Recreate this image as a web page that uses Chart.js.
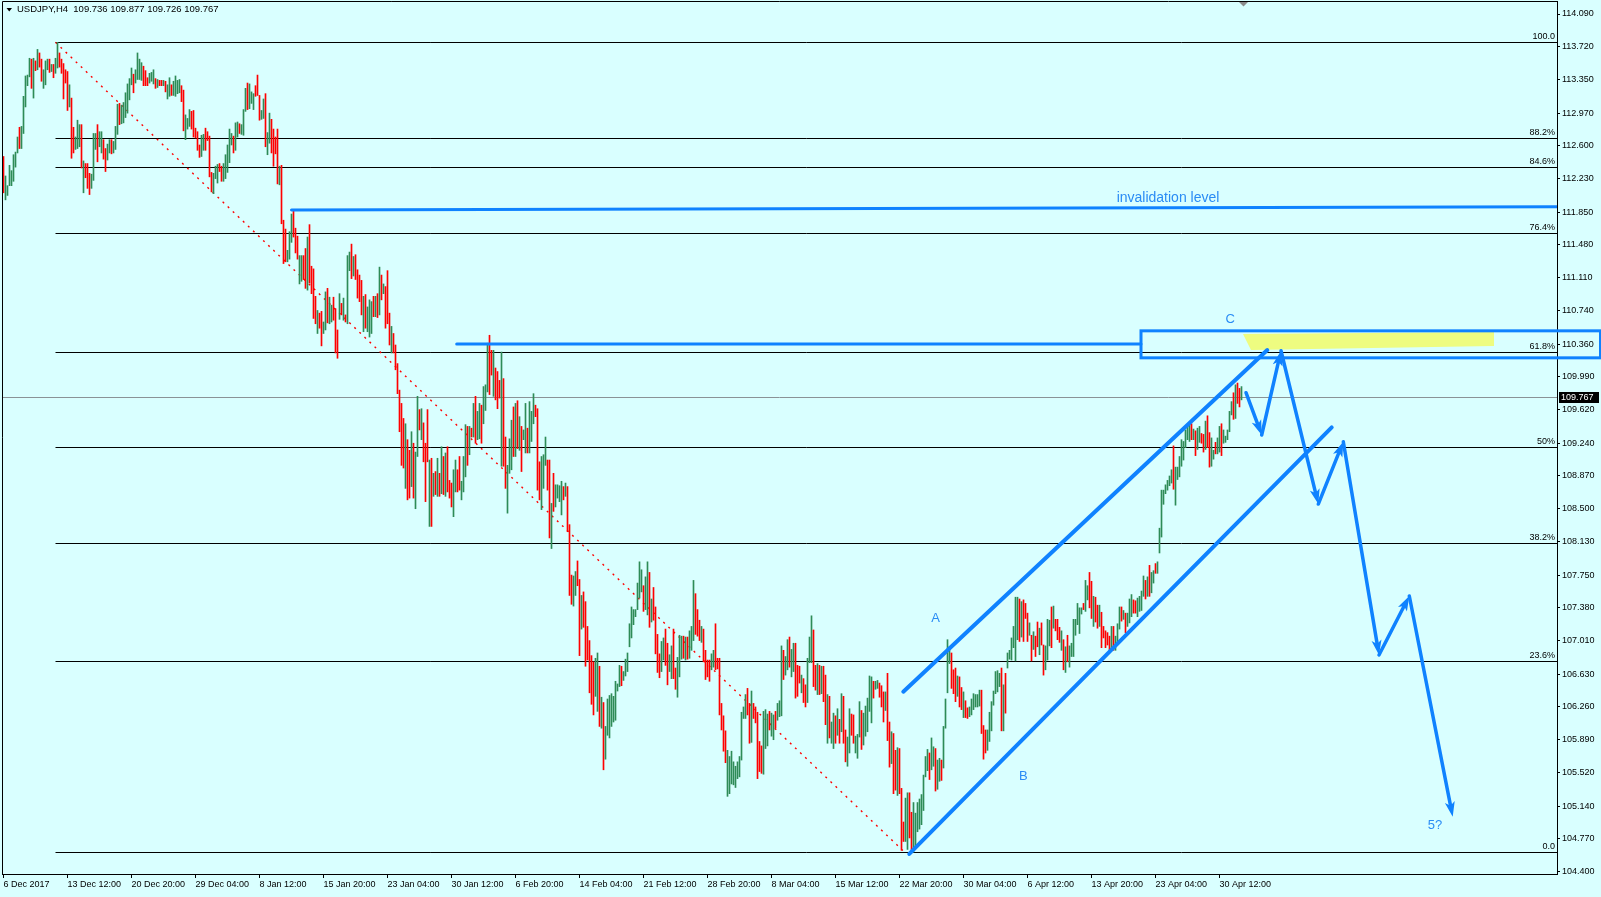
<!DOCTYPE html>
<html>
<head>
<meta charset="utf-8">
<title>USDJPY,H4</title>
<script src="https://cdn.jsdelivr.net/npm/chart.js@4.4.1/dist/chart.umd.min.js"></script>
<style>
  html, body { margin: 0; padding: 0; background: #d9ffff; overflow: hidden; }
  canvas { display: block; }
</style>
</head>
<body>
<canvas id="chart" width="1601" height="897"></canvas>
<script>
// H4 bars (index 0 = 6 Dec 2017 00:00)
const highs = [
  112.48,112.26,112.15,112.38,112.32,112.50,112.53,112.70,112.81,112.82, 113.16,113.39,113.40,113.59,113.58,113.59,113.56,113.69,113.65,113.58,
  113.46,113.56,113.58,113.58,113.52,113.52,113.59,113.77,113.65,113.58, 113.53,113.46,113.44,113.29,113.14,112.81,112.70,112.89,112.84,112.84,
  112.43,112.40,112.40,112.29,112.28,112.74,112.74,112.84,112.76,112.76, 112.67,112.57,112.62,112.67,112.67,112.65,112.82,113.07,113.08,113.06,
  113.09,113.20,113.30,113.36,113.48,113.41,113.46,113.65,113.58,113.54, 113.50,113.45,113.37,113.42,113.43,113.46,113.36,113.35,113.34,113.34,
  113.34,113.33,113.29,113.37,113.29,113.33,113.39,113.34,113.35,113.28, 113.23,112.95,112.91,113.01,112.99,113.00,112.80,112.76,112.61,112.72,
  112.73,112.80,112.76,112.71,112.30,112.29,112.37,112.39,112.40,112.37, 112.40,112.50,112.61,112.79,112.74,112.71,112.86,112.87,112.85,112.84,
  113.01,113.25,113.31,113.30,113.21,113.19,113.28,113.40,113.17,113.00, 113.13,113.19,112.75,112.97,112.90,112.79,112.70,112.79,112.37,112.38,
  111.76,111.66,111.42,111.63,111.83,111.87,111.67,111.58,111.36,111.36, 111.36,111.44,111.57,111.71,111.24,111.21,110.90,110.74,110.71,110.73,
  110.61,110.95,110.99,110.89,110.80,110.89,110.76,110.52,110.93,110.82, 110.88,110.69,111.36,111.40,111.49,111.35,111.37,111.20,111.14,111.08,
  110.90,110.92,110.78,110.86,110.84,110.90,110.90,110.93,111.23,111.14, 111.04,111.01,111.19,110.71,110.56,110.48,110.35,110.14,109.84,109.69,
  109.52,109.46,109.28,109.16,109.37,109.24,109.14,109.77,109.62,109.63, 109.47,109.24,109.62,109.05,109.07,108.90,108.92,109.07,108.90,109.20,
  109.09,109.13,109.20,108.82,108.79,108.94,109.05,108.94,109.09,108.81, 109.09,109.45,109.43,109.43,109.41,109.69,109.77,109.60,109.69,109.67,
  109.88,109.90,110.37,110.46,110.29,110.29,110.09,110.05,109.95,110.27, 109.97,109.31,108.99,109.29,109.50,109.65,109.69,109.72,109.54,109.43,
  109.39,109.69,109.41,109.71,109.60,109.80,109.67,109.63,109.03,109.09, 109.11,109.31,109.05,109.05,108.56,108.90,108.77,108.77,108.76,108.81,
  108.75,108.79,108.75,108.32,107.75,107.74,107.79,107.91,107.70,107.52, 107.56,107.45,107.17,107.01,106.84,106.77,106.81,106.87,106.72,106.37,
  106.31,106.04,106.35,106.39,106.41,106.38,106.55,106.52,106.73,106.72, 106.66,106.80,106.87,107.20,107.39,107.36,107.36,107.66,107.90,107.81,
  107.63,107.73,107.90,107.78,107.48,107.61,107.39,107.08,106.86,107.00, 107.04,107.14,106.98,106.85,106.95,107.14,106.70,106.82,107.07,107.06,
  107.06,107.05,107.05,107.12,107.17,107.69,107.54,107.36,107.24,107.17, 107.14,106.90,106.79,106.79,106.86,106.90,107.20,106.81,106.81,106.30,
  106.16,105.99,105.77,105.70,105.76,105.64,105.59,105.64,105.70,106.20, 106.26,106.40,106.47,106.30,106.44,106.30,106.26,106.20,105.87,105.82,
  106.21,106.23,106.18,106.21,106.19,106.17,106.21,106.30,106.33,106.95, 106.90,106.83,107.02,107.05,106.91,106.98,106.98,106.73,106.72,106.62,
  106.58,106.51,106.81,107.05,107.29,107.13,106.73,106.75,106.73,106.72, 106.72,106.62,106.40,106.38,106.09,106.19,106.16,106.24,106.12,106.41,
  106.38,106.00,105.92,106.24,106.18,106.17,105.93,105.95,106.32,106.22, 106.19,106.27,106.36,106.61,106.60,106.55,106.55,106.56,106.53,106.50,
  106.43,106.43,106.64,106.09,105.98,105.96,105.77,105.80,105.79,105.34, 104.96,105.23,105.29,105.29,105.07,105.18,105.06,105.18,105.22,105.27,
  105.49,105.70,105.78,105.74,105.91,105.81,105.79,105.66,105.68,105.66, 106.04,106.35,107.02,106.94,106.87,106.68,106.70,106.61,106.60,106.48,
  106.43,106.33,106.25,106.26,106.35,106.41,106.40,106.40,106.45,106.45, 106.05,106.00,106.00,106.20,106.32,106.44,106.66,106.67,106.64,106.70,
  106.51,106.64,106.87,106.90,107.04,107.17,107.50,107.50,107.48,107.45, 107.47,107.43,107.32,107.21,107.07,107.11,107.06,107.22,107.15,107.21,
  106.96,106.95,107.25,107.24,107.39,107.40,107.25,107.25,107.16,107.12, 107.02,106.94,107.07,106.95,106.98,107.25,107.25,107.43,107.38,107.38,
  107.43,107.69,107.63,107.78,107.68,107.51,107.50,107.41,107.41,107.33, 107.17,107.12,107.10,107.06,107.17,107.17,107.06,107.20,107.39,107.39,
  107.35,107.32,107.32,107.48,107.53,107.47,107.46,107.49,107.51,107.57, 107.74,107.69,107.73,107.86,107.78,107.80,107.88,107.90,108.28,108.71,
  108.71,108.77,108.82,108.87,108.94,109.21,108.97,108.97,109.09,109.28, 109.26,109.39,109.45,109.46,109.46,109.40,109.38,109.41,109.43,109.35,
  109.34,109.49,109.55,109.36,109.30,109.16,109.25,109.30,109.43,109.46, 109.39,109.32,109.39,109.60,109.71,109.81,109.90,109.92,109.86,109.88
];
const lows = [
  112.07,111.99,112.04,112.15,112.15,112.20,112.36,112.52,112.57,112.57, 112.74,113.04,113.28,113.38,113.25,113.14,113.45,113.46,113.49,113.33,
  113.25,113.29,113.46,113.43,113.44,113.37,113.42,113.48,113.49,113.42, 113.13,113.31,113.00,113.04,112.46,112.52,112.56,112.57,112.59,112.35,
  112.07,112.24,112.12,112.05,112.12,112.21,112.56,112.42,112.59,112.52, 112.45,112.31,112.44,112.52,112.51,112.52,112.56,112.73,112.84,112.85,
  112.86,112.92,112.97,113.12,113.29,113.20,113.31,113.35,113.35,113.34, 113.28,113.28,113.28,113.31,113.33,113.30,113.25,113.26,113.28,113.28,
  113.28,113.21,113.13,113.16,113.17,113.17,113.16,113.19,113.20,113.10, 112.77,112.67,112.79,112.82,112.79,112.70,112.69,112.55,112.47,112.48,
  112.55,112.55,112.66,112.25,112.08,112.06,112.23,112.18,112.31,112.20, 112.20,112.23,112.30,112.41,112.61,112.52,112.55,112.70,112.74,112.73,
  112.72,112.99,113.01,113.02,113.08,113.01,113.16,113.17,112.89,112.90, 112.91,112.59,112.50,112.63,112.52,112.37,112.51,112.17,112.16,111.72,
  111.27,111.29,111.29,111.32,111.51,111.57,111.39,111.32,111.04,111.07, 111.09,110.99,110.97,111.05,110.93,110.65,110.59,110.48,110.54,110.34,
  110.48,110.52,110.60,110.59,110.61,110.63,110.26,110.20,110.64,110.69, 110.63,110.61,110.59,111.19,111.10,111.13,111.09,110.88,110.84,110.69,
  110.50,110.54,110.50,110.44,110.48,110.67,110.67,110.66,110.69,110.86, 110.93,110.54,110.59,110.35,110.26,110.26,110.07,109.80,109.37,108.99,
  108.96,108.73,108.60,108.62,108.75,108.62,108.50,109.09,109.39,109.28, 109.03,108.58,109.03,108.30,108.30,108.64,108.66,108.64,108.64,108.67,
  108.66,108.64,108.69,108.62,108.52,108.41,108.69,108.69,108.71,108.60, 108.69,108.86,108.99,109.11,109.31,109.31,109.24,109.28,109.29,109.24,
  109.46,109.61,109.82,109.79,110.01,109.77,109.73,109.63,109.75,108.98, 108.98,108.73,108.45,108.90,108.94,109.09,109.09,109.18,109.16,108.92,
  109.28,109.13,109.13,109.13,109.26,109.46,109.54,108.71,108.60,108.49, 108.73,108.99,108.71,108.17,108.05,108.47,108.52,108.62,108.58,108.43,
  108.60,108.64,108.24,107.52,107.42,107.40,107.52,107.63,106.84,107.14, 107.16,106.72,106.79,106.42,106.29,106.17,106.38,106.21,106.04,106.02,
  105.55,105.67,105.94,105.91,106.04,106.09,106.11,106.44,106.49,106.50, 106.56,106.61,106.66,106.94,107.04,107.19,107.28,107.36,107.49,107.56,
  107.34,107.36,107.30,107.16,107.22,107.24,106.86,106.65,106.59,106.66, 106.79,106.73,106.51,106.66,106.58,106.58,106.46,106.37,106.60,106.80,
  106.81,106.79,106.80,106.81,106.90,107.01,107.08,107.06,107.01,106.99, 106.77,106.57,106.60,106.55,106.68,106.71,106.68,106.69,106.17,106.00,
  105.76,105.63,105.25,105.28,105.39,105.38,105.35,105.45,105.47,105.66, 106.13,106.13,106.17,105.85,105.86,106.13,106.08,105.45,105.53,105.51,
  105.50,105.79,105.82,106.00,105.93,105.89,106.02,106.11,106.15,106.16, 106.57,106.62,106.68,106.71,106.60,106.66,106.36,106.38,106.53,106.42,
  106.31,106.26,106.31,106.76,106.76,106.49,106.45,106.40,106.40,106.41, 106.32,106.06,105.85,105.91,105.85,105.79,105.85,105.94,105.85,105.98,
  105.85,105.64,105.59,105.74,105.94,105.85,105.74,105.68,105.92,105.78, 105.83,105.93,105.98,106.21,106.08,106.36,106.46,106.47,106.37,106.26,
  106.09,106.22,105.88,105.58,105.62,105.28,105.32,105.26,105.28,104.64, 104.74,104.74,104.65,104.78,104.64,104.62,104.67,104.85,104.88,104.93,
  105.09,105.47,105.54,105.44,105.55,105.59,105.31,105.33,105.42,105.43, 105.57,106.02,106.42,106.75,106.47,106.41,106.32,106.38,106.26,106.23,
  106.14,106.14,106.13,106.15,106.17,106.23,106.26,106.26,106.27,105.96, 105.67,105.74,105.77,105.87,105.99,106.28,106.41,106.43,106.49,105.99,
  105.99,106.19,106.70,106.80,106.79,106.93,106.78,107.02,107.00,107.05, 107.00,107.26,107.00,107.07,106.78,106.91,106.83,106.94,106.85,106.96,
  106.62,106.68,106.79,106.95,106.93,107.15,107.12,107.02,106.99,106.90, 106.68,106.65,106.77,106.71,106.83,106.83,107.07,107.19,107.09,107.31,
  107.36,107.34,107.47,107.38,107.26,107.17,107.22,107.15,107.17,106.93, 107.04,106.93,106.96,106.90,106.90,106.90,106.90,106.98,107.14,107.23,
  107.25,107.10,107.17,107.21,107.28,107.32,107.32,107.28,107.34,107.35, 107.51,107.48,107.51,107.51,107.55,107.66,107.77,107.77,108.00,108.18,
  108.55,108.67,108.71,108.76,108.79,108.72,108.54,108.83,108.86,108.98, 109.05,109.19,109.28,109.26,109.28,109.28,109.10,109.17,109.25,109.24,
  109.14,109.17,109.19,108.97,108.98,109.06,109.12,109.12,109.14,109.10, 109.24,109.25,109.28,109.37,109.56,109.51,109.52,109.69,109.65,109.73
];
// U = bull bar (green), D = bear bar (red)
const barDirs = [
  'DUUUUUUUDU','UUUUDUDUDD','UUUDUDUUDD','DDDUDDUUUD','UDDDUUUDUU','DDUUDUUUDU','UUUUUDUUUU','DDDUUUDUDD',
  'UDUUDUUUUD','DUUUDDDDDU','UDDDDUUUDD','UUUUUDUUDU','UUDUUUDDDU','UDUUDDDDUD','DDUUUDDDUU','DDUDDDDUDD',
  'UUDUUDDDUD','UDUUDUDDDD','UDUUUDUDUD','UDDDUDDDDD','DUDDUDUUDU','DDDUDUDUDU','DUDDDUUDDU','UUDUDUDUUD',
  'UUUDDUDDDU','DDUUUDUDUD','UUDUUUDDDU','UUDDUDUUUU','DUDDDUUDDU','DDDDDDUUDU','DUUUUUUUUD','UUUUUUUUUU',
  'DUUDUDDDDU','UDDUUDDUUU','DUDUUUDDDU','DDDDUUDDDD','DDUUUUUUUU','UUDDUDDDDD','UUUDUUDUUU','DUUDUUDDDU',
  'DDUUUDDUDU','DDUDUUDUDU','DDUUDDUUUD','UUUUUDUUDD','DUDDUDDUDD','DUUDDUUUUU','UUUDUUDUUD','UUUUDDDUDD',
  'UDDUUUUUUD','DDUUUUUUUD','UDUUUUUUDU','DDDUDUDDUD','DUUUDUDDDU','DUDUUUUUUU','DUUDDUDDUD','DDDDUDUUUD',
  'UDUUUDDUUU','UDUDUUDUUU','UUUUUDUUUU','UUUUDUDUUD','DUDDUUDUUD','UUUUUDUDDU'
].join('');

const timeLabels = ['6 Dec 2017', '13 Dec 12:00', '20 Dec 20:00', '29 Dec 04:00', '8 Jan 12:00',
  '15 Jan 20:00', '23 Jan 04:00', '30 Jan 12:00', '6 Feb 20:00', '14 Feb 04:00', '21 Feb 12:00',
  '28 Feb 20:00', '8 Mar 04:00', '15 Mar 12:00', '22 Mar 20:00', '30 Mar 04:00', '6 Apr 12:00',
  '13 Apr 20:00', '23 Apr 04:00', '30 Apr 12:00'];
const labelEvery = 32; // bars between time labels

const priceTicks = [114.09, 113.72, 113.35, 112.97, 112.60, 112.23, 111.85, 111.48, 111.11, 110.74,
  110.36, 109.99, 109.62, 109.24, 108.87, 108.50, 108.13, 107.75, 107.38, 107.01, 106.63, 106.26,
  105.89, 105.52, 105.14, 104.77, 104.40];

const symbolName = 'USDJPY,H4';
const lastOHLC = [109.736, 109.877, 109.726, 109.767];

// fibonacci retracement, from the Dec high to the Mar low
const fibHigh = 113.77, fibLow = 104.62, fibFrom = 26, fibTo = 450.5;
const fibLevels = [0, 23.6, 38.2, 50, 61.8, 76.4, 84.6, 88.2, 100];
const fibTexts = ['0.0', '23.6%', '38.2%', '50%', '61.8%', '76.4%', '84.6%', '88.2%', '100.0'];

// hand drawn objects: [bar index, price]
const invalidationLine = [[144, 111.875], [777, 111.913]];
const resistanceLine = [[226.6, 110.36], [568.75, 110.36]];
const targetBox = { x0: 568.75, x1: 798.5, top: 110.51, bottom: 110.205 };
const highlightZone = [[619.75, 110.474], [745.25, 110.497], [745.25, 110.339], [623.75, 110.293]];
const channelUpper = [[449.9, 106.432], [631.9, 110.293]];
const channelLower = [[452.9, 104.599], [664.1, 109.42]];
const projection = [[621.25, 109.811], [629.1, 109.333], [638.75, 110.285], [657.4, 108.553],
  [669.9, 109.257], [687.75, 106.847], [702.9, 107.514], [724.6, 105.02]];
const waveLabels = [['A', 466.1, 107.257], ['B', 509.9, 105.472], ['C', 613.4, 110.637], ['5?', 715.75, 104.926]];
const invalidationText = ['invalidation level', 582.25, 112.01];
const shiftMarker = 620;

const upColor = '#2e8b57';
const downColor = '#ff0000';
const blue = '#0f82ff';
const blueText = '#2a8cf5';
const FONT = '"Liberation Sans", Arial, sans-serif';

Chart.defaults.font.family = FONT;

function seg(ctx, pts) {
  ctx.beginPath();
  pts.forEach((p, i) => i ? ctx.lineTo(p[0], p[1]) : ctx.moveTo(p[0], p[1]));
  ctx.stroke();
}

function arrowTo(ctx, x0, y0, x1, y1) {
  const a = Math.atan2(y1 - y0, x1 - x0);
  const len = 15, w = 5;
  const c = Math.cos(a), s = Math.sin(a);
  ctx.beginPath();
  ctx.moveTo(x0, y0);
  ctx.lineTo(x1 - c * len * 0.7, y1 - s * len * 0.7);
  ctx.stroke();
  ctx.beginPath();
  ctx.moveTo(x1, y1);
  ctx.lineTo(x1 - c * len - s * w, y1 - s * len + c * w);
  ctx.lineTo(x1 - c * len * 0.75, y1 - s * len * 0.75);
  ctx.lineTo(x1 - c * len + s * w, y1 - s * len - c * w);
  ctx.closePath();
  ctx.fill();
}

const drawings = {
  id: 'drawings',
  beforeDraw(chart) {
    const ctx = chart.ctx;
    ctx.save();
    ctx.fillStyle = '#d9ffff';
    ctx.fillRect(0, 0, chart.width, chart.height);
    ctx.restore();
  },
  beforeDatasetsDraw(chart) {
    const { ctx, chartArea: ca } = chart;
    const xs = chart.scales.x, ys = chart.scales.y;
    ctx.save();
    ctx.beginPath();
    ctx.rect(ca.left, ca.top, ca.right - ca.left, ca.bottom - ca.top);
    ctx.clip();

    // yellow marker
    ctx.fillStyle = 'rgb(238,252,128)';
    ctx.beginPath();
    highlightZone.forEach((p, i) => {
      const x = xs.getPixelForValue(p[0]), y = ys.getPixelForValue(p[1]);
      i ? ctx.lineTo(x, y) : ctx.moveTo(x, y);
    });
    ctx.closePath();
    ctx.fill();

    // current price line
    const cy = Math.round(ys.getPixelForValue(lastOHLC[3])) + 0.5;
    ctx.strokeStyle = '#8a9296';
    ctx.lineWidth = 1;
    seg(ctx, [[ca.left, cy], [ca.right, cy]]);

    // fibo levels
    ctx.strokeStyle = '#000';
    ctx.fillStyle = '#000';
    ctx.font = '9px ' + FONT;
    ctx.textAlign = 'right';
    ctx.textBaseline = 'bottom';
    const fx = xs.getPixelForValue(fibFrom);
    fibLevels.forEach((lv, i) => {
      const price = fibLow + (fibHigh - fibLow) * lv / 100;
      const y = Math.round(ys.getPixelForValue(price)) + 0.5;
      seg(ctx, [[fx, y], [ca.right, y]]);
      ctx.fillText(fibTexts[i], ca.right - 2, y - 1.5);
    });

    // fibo trend line
    ctx.strokeStyle = '#ff0000';
    ctx.lineWidth = 1.4;
    ctx.setLineDash([2, 5]);
    seg(ctx, [[xs.getPixelForValue(fibFrom), ys.getPixelForValue(fibHigh)],
              [xs.getPixelForValue(fibTo), ys.getPixelForValue(fibLow)]]);
    ctx.restore();
  },
  afterDatasetsDraw(chart) {
    const { ctx, chartArea: ca } = chart;
    const xs = chart.scales.x, ys = chart.scales.y;
    const P = p => [xs.getPixelForValue(p[0]), ys.getPixelForValue(p[1])];
    ctx.save();
    ctx.strokeStyle = blue;
    ctx.fillStyle = blue;
    ctx.lineCap = 'round';

    ctx.save();
    ctx.beginPath();
    ctx.rect(ca.left, ca.top, ca.right - ca.left, ca.bottom - ca.top);
    ctx.clip();
    ctx.lineWidth = 3;
    seg(ctx, invalidationLine.map(P));
    seg(ctx, resistanceLine.map(P));
    ctx.lineWidth = 4;
    seg(ctx, channelUpper.map(P));
    seg(ctx, channelLower.map(P));
    ctx.lineWidth = 3.5;
    for (let i = 1; i < projection.length; i++) {
      const a = P(projection[i - 1]), b = P(projection[i]);
      arrowTo(ctx, a[0], a[1], b[0], b[1]);
    }
    ctx.restore();

    // target box runs over the price scale
    ctx.lineWidth = 3;
    ctx.lineCap = 'butt';
    const bx0 = xs.getPixelForValue(targetBox.x0), bx1 = xs.getPixelForValue(targetBox.x1);
    const by0 = ys.getPixelForValue(targetBox.top), by1 = ys.getPixelForValue(targetBox.bottom);
    ctx.strokeRect(bx0, by0, bx1 - bx0, by1 - by0);

    // texts
    ctx.fillStyle = blueText;
    ctx.textAlign = 'center';
    ctx.textBaseline = 'middle';
    ctx.font = '14px ' + FONT;
    ctx.fillText(invalidationText[0], xs.getPixelForValue(invalidationText[1]), ys.getPixelForValue(invalidationText[2]));
    ctx.font = '13px ' + FONT;
    waveLabels.forEach(w => ctx.fillText(w[0], xs.getPixelForValue(w[1]), ys.getPixelForValue(w[2])));
    ctx.restore();
  },
  afterDraw(chart) {
    const { ctx, chartArea: ca } = chart;
    const xs = chart.scales.x, ys = chart.scales.y;
    ctx.save();
    // frame left/top
    ctx.strokeStyle = '#000';
    ctx.lineWidth = 1;
    seg(ctx, [[ca.left + 0.5, ca.bottom], [ca.left + 0.5, ca.top + 0.5], [ca.right, ca.top + 0.5]]);

    // chart shift marker
    const sx = xs.getPixelForValue(shiftMarker);
    ctx.fillStyle = '#8c8c8c';
    ctx.beginPath();
    ctx.moveTo(sx - 4.5, ca.top + 1);
    ctx.lineTo(sx + 4.5, ca.top + 1);
    ctx.lineTo(sx, ca.top + 5.5);
    ctx.closePath();
    ctx.fill();

    // header
    ctx.fillStyle = '#000';
    ctx.beginPath();
    ctx.moveTo(6.5, 8);
    ctx.lineTo(12, 8);
    ctx.lineTo(9.25, 11.5);
    ctx.closePath();
    ctx.fill();
    ctx.font = '9.5px ' + FONT;
    ctx.textAlign = 'left';
    ctx.textBaseline = 'middle';
    ctx.fillText(symbolName + '  ' + lastOHLC.map(v => v.toFixed(3)).join(' '), 17, 9.5);

    // last price tag
    const py = Math.round(ys.getPixelForValue(lastOHLC[3]));
    ctx.fillStyle = '#000';
    ctx.fillRect(ca.right + 2, py - 5, 40, 11);
    ctx.fillStyle = '#fff';
    ctx.font = '9px ' + FONT;
    ctx.fillText(lastOHLC[3].toFixed(3), ca.right + 4, py + 0.5);
    ctx.restore();
  }
};

const bars = highs.map((h, i) => ({ x: i, y: [lows[i], h] }));

new Chart(document.getElementById('chart'), {
  type: 'bar',
  data: {
    datasets: [{
      data: bars,
      backgroundColor: barDirs.split('').map(d => d === 'U' ? upColor : downColor),
      barThickness: 1,
      borderWidth: 0,
      grouped: false
    }]
  },
  options: {
    responsive: false,
    animation: false,
    events: [],
    layout: { padding: { left: 2, top: 1, right: 0, bottom: 0 } },
    plugins: { legend: { display: false }, tooltip: { enabled: false } },
    scales: {
      x: {
        type: 'linear',
        min: -0.75,
        max: 776.75,
        offset: false,
        grid: { offset: false, drawOnChartArea: false, drawTicks: true, tickLength: 4, color: '#000' },
        border: { display: true, color: '#000' },
        ticks: {
          autoSkip: false, maxRotation: 0, minRotation: 0, align: 'start', padding: 1,
          color: '#000', font: { size: 9 },
          callback: (v, i) => timeLabels[i]
        },
        afterBuildTicks: s => { s.ticks = timeLabels.map((t, k) => ({ value: k * labelEvery })); },
        afterFit: s => { s.height = 23; s.paddingLeft = 0; s.paddingRight = 0; }
      },
      y: {
        type: 'linear',
        position: 'right',
        min: 104.3725,
        max: 114.237,
        grid: { drawOnChartArea: false, drawTicks: true, tickLength: 3, color: '#000' },
        border: { display: true, color: '#000' },
        ticks: { padding: 2, color: '#000', font: { size: 9 }, callback: v => v.toFixed(3) },
        afterBuildTicks: s => { s.ticks = priceTicks.map(v => ({ value: v })); },
        afterFit: s => { s.width = 44; s.paddingTop = 0; s.paddingBottom = 0; }
      }
    }
  },
  plugins: [drawings]
});
</script>
</body>
</html>
